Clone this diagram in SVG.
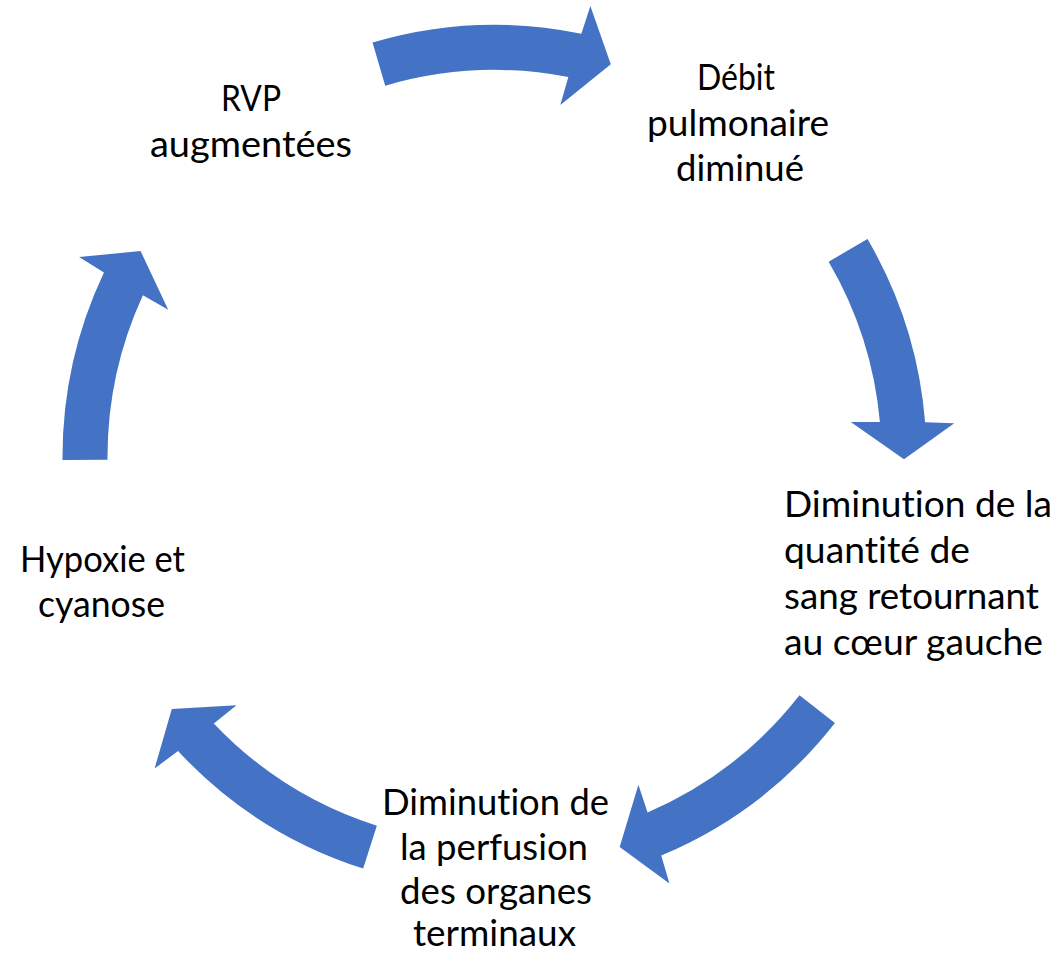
<svg xmlns="http://www.w3.org/2000/svg" width="1061" height="953" viewBox="0 0 1061 953">
<style>
.arrow{fill:#4472C4;stroke:none}
.lbl{font-family:Lato,"Open Sans","Liberation Sans",sans-serif;font-size:37.5px;fill:#000000;font-variant-ligatures:none;font-feature-settings:"liga" 0,"clig" 0}
</style>
<rect x="0" y="0" width="1061" height="953" fill="#ffffff"/>
<g id="connectors">
<path class="arrow" d="M372.53,42.58 A432,432 0 0 1 581.37,33.82 L590.35,6.07 L610.81,64.36 L560.35,105.11 L568.34,77.11 A387,387 0 0 0 385.23,85.75 Z"/>
<path class="arrow" d="M867.49,239.00 A432,432 0 0 1 925.11,422.35 L954.26,423.24 L903.99,459.15 L850.79,422.07 L879.91,421.93 A387,387 0 0 0 828.64,261.71 Z"/>
<path class="arrow" d="M834.92,722.97 A432,432 0 0 1 661.21,855.54 L669.43,883.52 L619.68,846.89 L638.40,784.81 L647.58,812.44 A387,387 0 0 0 799.46,695.26 Z"/>
<path class="arrow" d="M363.16,868.55 A432,432 0 0 1 178.04,751.07 L154.61,768.45 L171.81,709.11 L236.54,705.24 L213.78,723.39 A387,387 0 0 0 376.84,825.68 Z"/>
<path class="arrow" d="M62.51,460.02 A432,432 0 0 1 103.94,272.38 L79.10,257.08 L140.58,251.01 L168.22,309.68 L142.91,295.28 A387,387 0 0 0 107.51,459.70 Z"/>
</g>
<g id="node-rvp">
<text class="lbl" x="221" y="111" textLength="60" lengthAdjust="spacingAndGlyphs">RVP</text>
<text class="lbl" x="150" y="157" textLength="202" lengthAdjust="spacingAndGlyphs">augmentées</text>
</g>
<g id="node-debit">
<text class="lbl" x="697" y="90" textLength="78" lengthAdjust="spacingAndGlyphs">Débit</text>
<text class="lbl" x="647" y="136" textLength="182" lengthAdjust="spacingAndGlyphs">pulmonaire</text>
<text class="lbl" x="676" y="181" textLength="128" lengthAdjust="spacingAndGlyphs">diminué</text>
</g>
<g id="node-quantite">
<text class="lbl" x="784" y="517" textLength="268" lengthAdjust="spacingAndGlyphs">Diminution de la</text>
<text class="lbl" x="784" y="563" textLength="186" lengthAdjust="spacingAndGlyphs">quantité de</text>
<text class="lbl" x="784" y="609" textLength="255" lengthAdjust="spacingAndGlyphs">sang retournant</text>
<text class="lbl" x="784" y="655" textLength="259" lengthAdjust="spacingAndGlyphs">au cœur gauche</text>
</g>
<g id="node-perfusion">
<text class="lbl" x="382" y="815" textLength="227" lengthAdjust="spacingAndGlyphs">Diminution de</text>
<text class="lbl" x="400" y="860" textLength="188" lengthAdjust="spacingAndGlyphs">la perfusion</text>
<text class="lbl" x="400" y="904" textLength="192" lengthAdjust="spacingAndGlyphs">des organes</text>
<text class="lbl" x="413" y="946" textLength="163" lengthAdjust="spacingAndGlyphs">terminaux</text>
</g>
<g id="node-hypoxie">
<text class="lbl" x="20" y="572" textLength="165" lengthAdjust="spacingAndGlyphs">Hypoxie et</text>
<text class="lbl" x="38" y="617" textLength="127" lengthAdjust="spacingAndGlyphs">cyanose</text>
</g>
</svg>
